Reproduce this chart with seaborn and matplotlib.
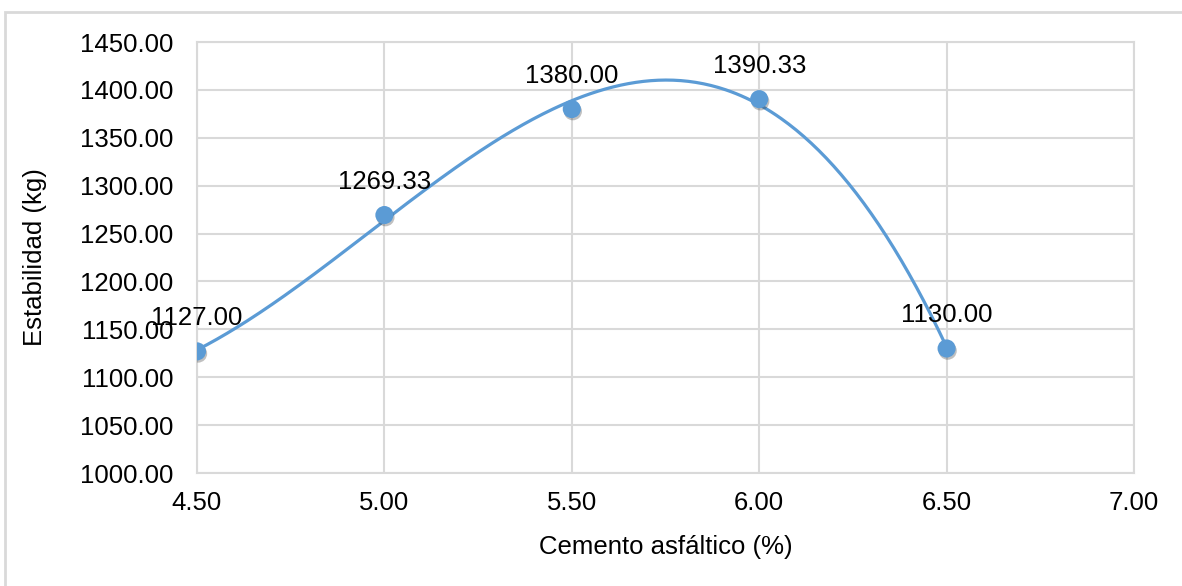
import numpy as np
import matplotlib
matplotlib.use("Agg")
import matplotlib.pyplot as plt
import matplotlib.patheffects as pe
import seaborn as sns

cemento = [4.5, 5.0, 5.5, 6.0, 6.5]
estabilidad = [1127.00, 1269.33, 1380.00, 1390.33, 1130.00]
etiquetas = ["1127.00", "1269.33", "1380.00", "1390.33", "1130.00"]
xticks = [4.5, 5.0, 5.5, 6.0, 6.5, 7.0]
yticks = [1000, 1050, 1100, 1150, 1200, 1250, 1300, 1350, 1400, 1450]

sns.set_theme(style="white")
plt.rcParams['font.family'] = ['Liberation Sans', 'DejaVu Sans']

BLUE = "#5b9bd5"
GRID = "#d9d9d9"
FS = 18.5

fig = plt.figure(figsize=(11.82, 5.86), dpi=100)
ax = fig.add_axes([197/1182, 1-473/586, (1134-197)/1182, (473-42)/586])

# figure border
fig.patches.append(plt.Rectangle((5/1182, -0.1), 1.2, 1-12/586+0.1, transform=fig.transFigure,
                                 fill=False, edgecolor=GRID, linewidth=2, zorder=0))

# Polynomial (order 3) trendline over the data range
coef = np.polyfit(cemento, estabilidad, 3)
tx = np.linspace(min(cemento), max(cemento), 300)
ty = np.polyval(coef, tx)
sns.lineplot(x=tx, y=ty, ax=ax, color=BLUE, linewidth=2.3, zorder=3, sort=False)

sns.scatterplot(x=cemento, y=estabilidad, ax=ax, color=BLUE, s=170, edgecolor=BLUE,
                linewidth=0, zorder=4,
                path_effects=[pe.SimplePatchShadow(offset=(0.8, -1.6), alpha=0.3, shadow_rgbFace="#303030"),
                              pe.Normal()])

for xv, yv, lab in zip(cemento, estabilidad, etiquetas):
    ax.annotate(lab, (xv, yv), xytext=(0, 24), textcoords="offset points",
                ha="center", va="center", fontsize=FS, color="#000000", zorder=5)

ax.set_xlim(4.5, 7.0)
ax.set_ylim(1000, 1450)
ax.set_xticks(xticks)
ax.set_yticks(yticks)
ax.set_xticklabels([f"{v:.2f}" for v in xticks])
ax.set_yticklabels([f"{v:.2f}" for v in yticks])
ax.tick_params(axis="both", length=0, labelsize=FS, colors="#000000")
ax.tick_params(axis="y", pad=17)
ax.tick_params(axis="x", pad=13)
ax.grid(True, color=GRID, linewidth=1.5)
ax.set_axisbelow(True)
for s in ax.spines.values():
    s.set_color(GRID)
    s.set_linewidth(1.5)

ax.set_xlabel("Cemento asfáltico (%)", fontsize=FS, color="#000000")
ax.set_ylabel("Estabilidad (kg)", fontsize=FS, color="#000000")
ax.yaxis.set_label_coords(-(197-47)/(1134-197), 0.5)
ax.xaxis.set_label_coords(0.5, -(535-473)/(473-42))

fig.savefig("out.png", dpi=100, facecolor="white")
